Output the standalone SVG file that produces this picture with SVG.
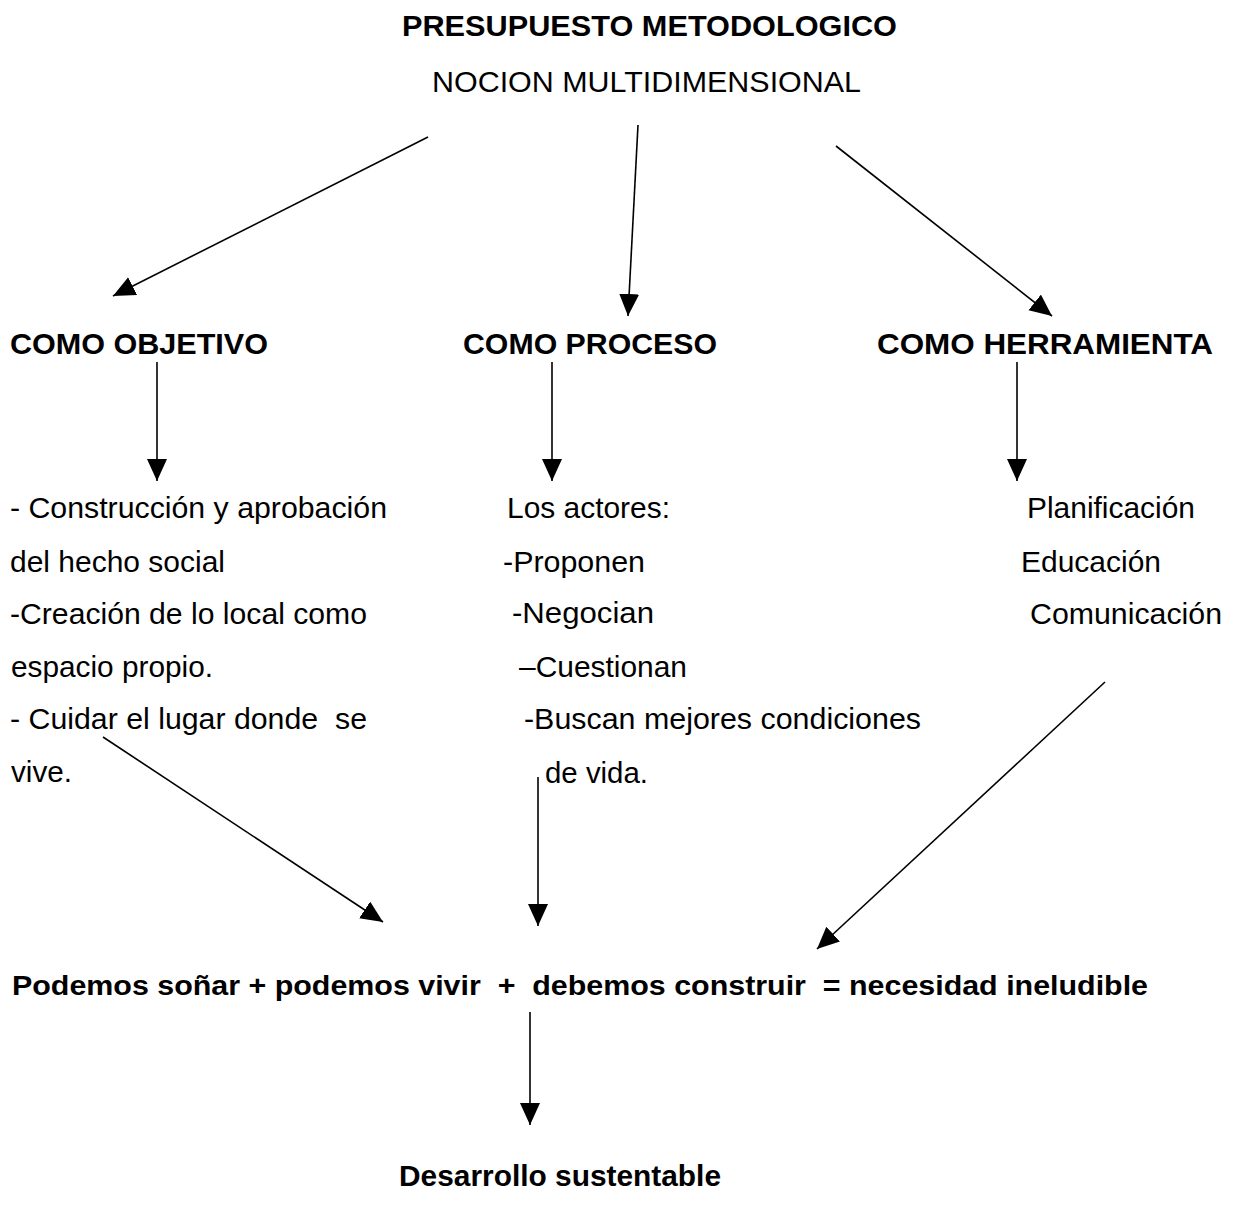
<svg xmlns="http://www.w3.org/2000/svg" width="1235" height="1214" viewBox="0 0 1235 1214">
<style>
text{font-family:"Liberation Sans",Arial,sans-serif;font-size:30px;fill:#000}
.b{font-weight:bold}
.c line{stroke:#000;stroke-width:1.6;marker-end:url(#ah)}
</style>
<defs>
<marker id="ah" markerUnits="userSpaceOnUse" markerWidth="24" markerHeight="22" refX="22" refY="10" orient="auto" viewBox="0 0 24 22">
<path d="M0,0 L22,10 L0,20 z" fill="#000"/>
</marker>
</defs>
<rect width="1235" height="1214" fill="#fff"/>
<g id="title"><text class="b" x="402" y="36" textLength="495" lengthAdjust="spacingAndGlyphs">PRESUPUESTO METODOLOGICO</text></g>
<g id="nocion"><text x="432" y="92" textLength="429" lengthAdjust="spacingAndGlyphs">NOCION MULTIDIMENSIONAL</text></g>
<g id="objetivo"><text class="b" x="10" y="354" textLength="258" lengthAdjust="spacingAndGlyphs">COMO OBJETIVO</text></g>
<g id="proceso"><text class="b" x="463" y="354" textLength="254" lengthAdjust="spacingAndGlyphs">COMO PROCESO</text></g>
<g id="herramienta"><text class="b" x="877" y="354" textLength="336" lengthAdjust="spacingAndGlyphs">COMO HERRAMIENTA</text></g>
<g id="objetivo-items">
<text x="10" y="518" textLength="377" lengthAdjust="spacingAndGlyphs">- Construcción y aprobación</text>
<text x="10" y="572" textLength="215" lengthAdjust="spacingAndGlyphs">del hecho social</text>
<text x="10" y="624" textLength="357" lengthAdjust="spacingAndGlyphs">-Creación de lo local como</text>
<text x="11" y="677" textLength="202" lengthAdjust="spacingAndGlyphs">espacio propio.</text>
<text x="10" y="729" textLength="357" lengthAdjust="spacingAndGlyphs" xml:space="preserve">- Cuidar el lugar donde  se</text>
<text x="11" y="782" textLength="61" lengthAdjust="spacingAndGlyphs">vive.</text>
</g>
<g id="proceso-items">
<text x="507" y="518" textLength="163" lengthAdjust="spacingAndGlyphs">Los actores:</text>
<text x="503" y="572" textLength="142" lengthAdjust="spacingAndGlyphs">-Proponen</text>
<text x="512" y="623" textLength="142" lengthAdjust="spacingAndGlyphs">-Negocian</text>
<text x="519" y="677" textLength="168" lengthAdjust="spacingAndGlyphs">–Cuestionan</text>
<text x="524" y="729" textLength="397" lengthAdjust="spacingAndGlyphs">-Buscan mejores condiciones</text>
<text x="545" y="783" textLength="103" lengthAdjust="spacingAndGlyphs">de vida.</text>
</g>
<g id="herramienta-items">
<text x="1027" y="518" textLength="168" lengthAdjust="spacingAndGlyphs">Planificación</text>
<text x="1021" y="572" textLength="140" lengthAdjust="spacingAndGlyphs">Educación</text>
<text x="1030" y="624" textLength="192" lengthAdjust="spacingAndGlyphs">Comunicación</text>
</g>
<g id="ecuacion"><text class="b" x="12" y="995" style="font-size:28px" textLength="1136" lengthAdjust="spacingAndGlyphs" xml:space="preserve">Podemos soñar + podemos vivir  +  debemos construir  = necesidad ineludible</text></g>
<g id="desarrollo"><text class="b" x="399" y="1186" textLength="322" lengthAdjust="spacingAndGlyphs">Desarrollo sustentable</text></g>
<g id="connectors" class="c">
<line x1="428" y1="137" x2="113" y2="296"/>
<line x1="638" y1="125" x2="628" y2="316"/>
<line x1="836" y1="146" x2="1052" y2="316"/>
<line x1="157" y1="362" x2="157" y2="481"/>
<line x1="552" y1="362" x2="552" y2="481"/>
<line x1="1017" y1="362" x2="1017" y2="481"/>
<line x1="103" y1="737" x2="383" y2="922"/>
<line x1="538" y1="777" x2="538" y2="926"/>
<line x1="1105" y1="682" x2="817" y2="949"/>
<line x1="530" y1="1012" x2="530" y2="1125"/>
</g>
</svg>
